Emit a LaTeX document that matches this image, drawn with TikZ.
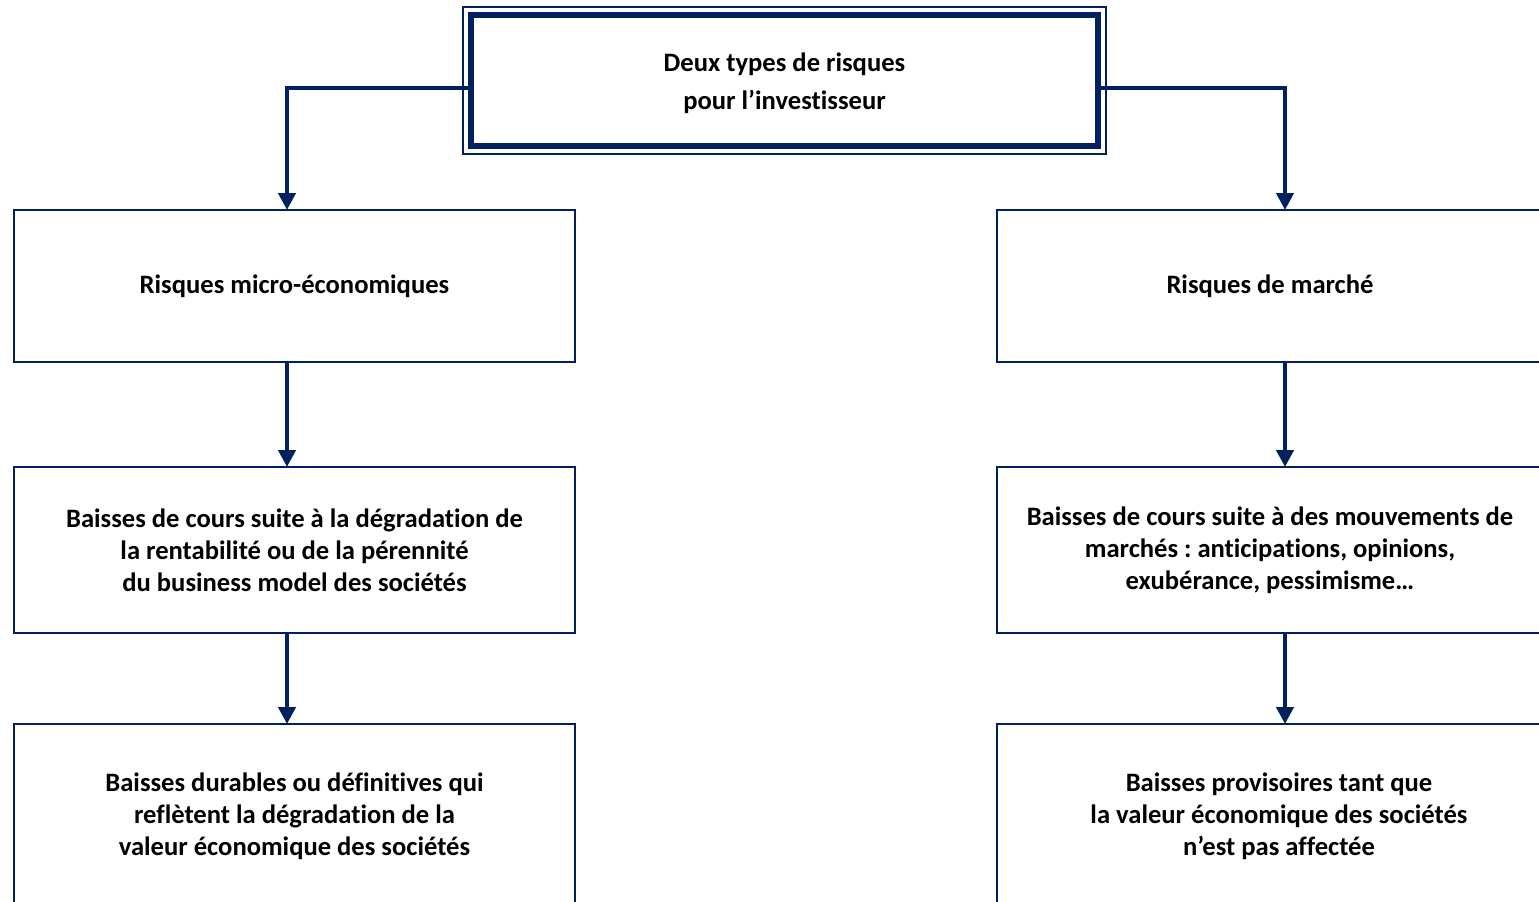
\documentclass[tikz,border=0pt]{standalone}
\usepackage{fontspec}
\setmainfont{Carlito}[Ligatures=NoCommon]
\usetikzlibrary{arrows.meta,positioning}
\definecolor{navy}{HTML}{002060}
\frenchspacing

\begin{document}
\begin{tikzpicture}[x=0.5pt, y=-0.5pt, font=\fontsize{13.3}{16}\selectfont\bfseries, ->, >={Triangle[width=8.5pt,length=8.5pt]}, line width=2.4pt, draw=navy]
      \tikzstyle{box} = [rectangle, draw=navy, line width=0.7pt, outer sep=0, align=center]
      \tikzstyle{head} = [rectangle, draw=navy, line width=3.3pt, outer sep=0, align=center, minimum width=313.5pt, minimum height=65.5pt, font=\fontsize{13.3}{19}\selectfont\bfseries]
      \tikzstyle{lbox} = [box, minimum width=280.5pt]
      \tikzstyle{rbox} = [box, minimum width=273pt]

      \useasboundingbox (0,0) rectangle (1539,901);
      \clip (0,0) rectangle (1539,901);

      \node[head] (dt) at (784.5,80.5) {\rule{0pt}{12.5pt}Deux types de risques\\pour l’investisseur};
      \draw[-, line width=0.6pt] ([shift={(-4pt,4pt)}]dt.north west) rectangle ([shift={(4pt,-4pt)}]dt.south east);

      \node[lbox, minimum height=76pt]                  (mic) at (294.5,286) {Risques micro-économiques};
      \node[lbox, minimum height=83pt, below=52.5pt of mic] (dgr) {Baisses de cours suite à la dégradation de\\la rentabilité ou de la pérennité\\du business model des sociétés};
      \node[lbox, minimum height=92pt, below=45.5pt of dgr] (dur) {Baisses durables ou définitives qui\\reflètent la dégradation de la\\valeur économique des sociétés};

      \node[rbox, minimum height=76pt]                  (mar) at (1270,286) {Risques de marché};
      \node[rbox, minimum height=83pt, below=52.5pt of mar] (mvt) {Baisses de cours suite à des mouvements de\\marchés : anticipations, opinions,\\exubérance, pessimisme…};
      \node[box, minimum width=282pt, minimum height=92pt, below=45.5pt of mvt.south west, anchor=north west] (pro) {Baisses provisoires tant que\\la valeur économique des sociétés\\n’est pas affectée};

      \coordinate (lc) at (287,0);
      \coordinate (rc) at (1285,0);
      \coordinate (hr) at (0,88);

      \draw (dt.west |- hr) -| (mic.north -| lc);
      \draw (dt.east |- hr) -| (mar.north -| rc);
      \draw (mic.south -| lc) -- (dgr.north -| lc);
      \draw (dgr.south -| lc) -- (dur.north -| lc);
      \draw (mar.south -| rc) -- (mvt.north -| rc);
      \draw (mvt.south -| rc) -- (pro.north -| rc);
    \end{tikzpicture}
\end{document}
